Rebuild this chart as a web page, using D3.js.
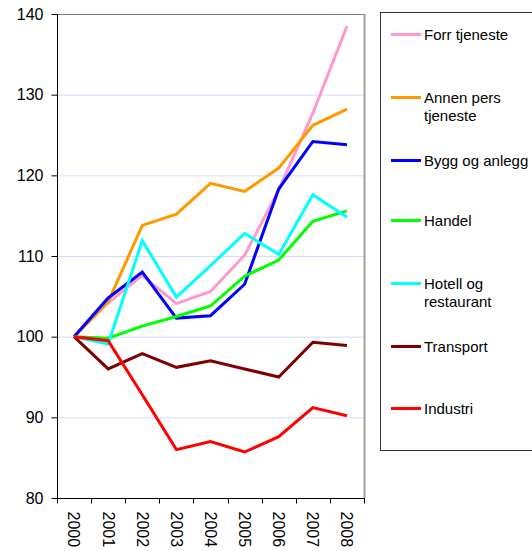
<!DOCTYPE html>
<html><head><meta charset="utf-8">
<script src="https://cdn.jsdelivr.net/npm/d3@7"></script>
<style>body{margin:0;background:#fff;}svg{display:block;font-family:"Liberation Sans",Arial,sans-serif;}</style>
</head><body>
<svg id="c" width="532" height="551"></svg>
<script>
const years = ["2000","2001","2002","2003","2004","2005","2006","2007","2008"];
const yTicks = [80, 90, 100, 110, 120, 130, 140];
const forrTjeneste = [100, 104.2, 107.6, 104.1, 105.6, 110.1, 118.2, 127.7, 138.5];
const annenPers = [100, 104.3, 113.8, 115.2, 119.0, 118.0, 120.9, 126.2, 128.2];
const byggAnlegg = [100, 104.8, 108.0, 102.3, 102.6, 106.5, 118.3, 124.2, 123.8];
const handel = [100, 99.8, 101.3, 102.5, 103.8, 107.5, 109.5, 114.3, 115.6];
const hotell = [100, 99.1, 111.9, 104.9, 108.8, 112.8, 110.2, 117.6, 114.8];
const transport = [100, 96.0, 97.9, 96.2, 97.0, 96.0, 95.0, 99.3, 98.9];
const industri = [100, 99.5, 92.8, 86.0, 87.0, 85.7, 87.6, 91.2, 90.2];

const seriesNames = ["Forr tjeneste", "Annen pers tjeneste", "Bygg og anlegg", "Handel", "Hotell og restaurant", "Transport", "Industri"];
const seriesLegendLines = [["Forr tjeneste"], ["Annen pers", "tjeneste"], ["Bygg og anlegg"], ["Handel"], ["Hotell og", "restaurant"], ["Transport"], ["Industri"]];
const seriesColors = ["#ff99cc", "#ff9900", "#0000ff", "#00ff00", "#00ffff", "#800000", "#ff0000"];
const seriesValues = [forrTjeneste, annenPers, byggAnlegg, handel, hotell, transport, industri];

const svg = d3.select("#c");
const L = 57, R = 364, T = 14, B = 498;

const x = d3.scaleBand().domain(years).range([L, R]).padding(0);
const y = d3.scaleLinear().domain([80, 140]).range([B, T]);

// gridlines
svg.append("g").selectAll("line").data(yTicks.filter(d => d > 80 && d < 140)).join("line")
  .attr("x1", L).attr("x2", R).attr("y1", d => y(d) + 0.5).attr("y2", d => y(d) + 0.5)
  .attr("stroke", "#d8d8ff").attr("stroke-width", 1);

// top and right border (gray)
svg.append("line").attr("x1", L).attr("x2", R + 0.5).attr("y1", T + 0.5).attr("y2", T + 0.5).attr("stroke", "#808080");
svg.append("line").attr("x1", R + 0.5).attr("x2", R + 0.5).attr("y1", T).attr("y2", B).attr("stroke", "#a0a0a0").attr("stroke-width", 2);

// series lines
const line = d3.line().x((d, i) => x(years[i]) + x.bandwidth() / 2).y(d => y(d));
svg.append("g").selectAll("path").data(seriesValues).join("path")
  .attr("d", d => line(d)).attr("fill", "none")
  .attr("stroke", (d, i) => seriesColors[i]).attr("stroke-width", 3)
  .attr("stroke-linejoin", "miter");

// y axis
const yAxis = d3.axisLeft(y).tickValues(yTicks).tickSize(6).tickPadding(8).tickFormat(d3.format("d"));
const gy = svg.append("g").attr("transform", `translate(${L + 0.5},0)`).call(yAxis);
gy.select(".domain").attr("stroke", "#000").attr("d", `M0,${T}V${B}`);
gy.selectAll(".tick line").attr("stroke", "#000");
gy.selectAll(".tick text").attr("font-size", 16).attr("fill", "#000")
  .attr("font-family", '"Liberation Sans",Arial,sans-serif');

// x axis with tick marks at band edges
const gx = svg.append("g").attr("transform", `translate(0,${B + 0.5})`);
gx.append("line").attr("x1", L).attr("x2", R + 1).attr("y1", 0).attr("y2", 0).attr("stroke", "#000");
const edges = years.map(d => x(d)).concat([x(years[years.length - 1]) + x.bandwidth()]);
gx.selectAll("line.t").data(edges).join("line").attr("class", "t")
  .attr("x1", d => Math.round(d) + 0.5).attr("x2", d => Math.round(d) + 0.5)
  .attr("y1", 0).attr("y2", 5).attr("stroke", "#000");
gx.selectAll("text").data(years).join("text")
  .attr("transform", d => `translate(${x(d) + x.bandwidth() / 2},${13}) rotate(90)`)
  .attr("dy", "0.35em").attr("text-anchor", "start").attr("font-size", 16).attr("fill", "#000")
  .text(d => d);

// legend
const lg = svg.append("g");
lg.append("rect").attr("x", 380.5).attr("y", 12.5).attr("width", 200).attr("height", 438)
  .attr("fill", "#fff").attr("stroke", "#333").attr("stroke-width", 1);
const legendY = [34.5, 97.5, 160.5, 220.5, 283.5, 346.5, 408.5];
const items = lg.selectAll("g.item").data(seriesNames).join("g").attr("class", "item")
  .attr("transform", (d, i) => `translate(0,${legendY[i]})`);
items.append("line").attr("x1", 391).attr("x2", 421).attr("y1", 0).attr("y2", 0)
  .attr("stroke", (d, i) => seriesColors[i]).attr("stroke-width", 3);
items.each(function(d, i) {
  const t = d3.select(this).append("text").attr("x", 424).attr("y", 0).attr("font-size", 15).attr("fill", "#000");
  seriesLegendLines[i].forEach((s, j) => {
    t.append("tspan").attr("x", 424).attr("dy", j === 0 ? "0.35em" : "18.5").text(s);
  });
});
</script>
</body></html>
